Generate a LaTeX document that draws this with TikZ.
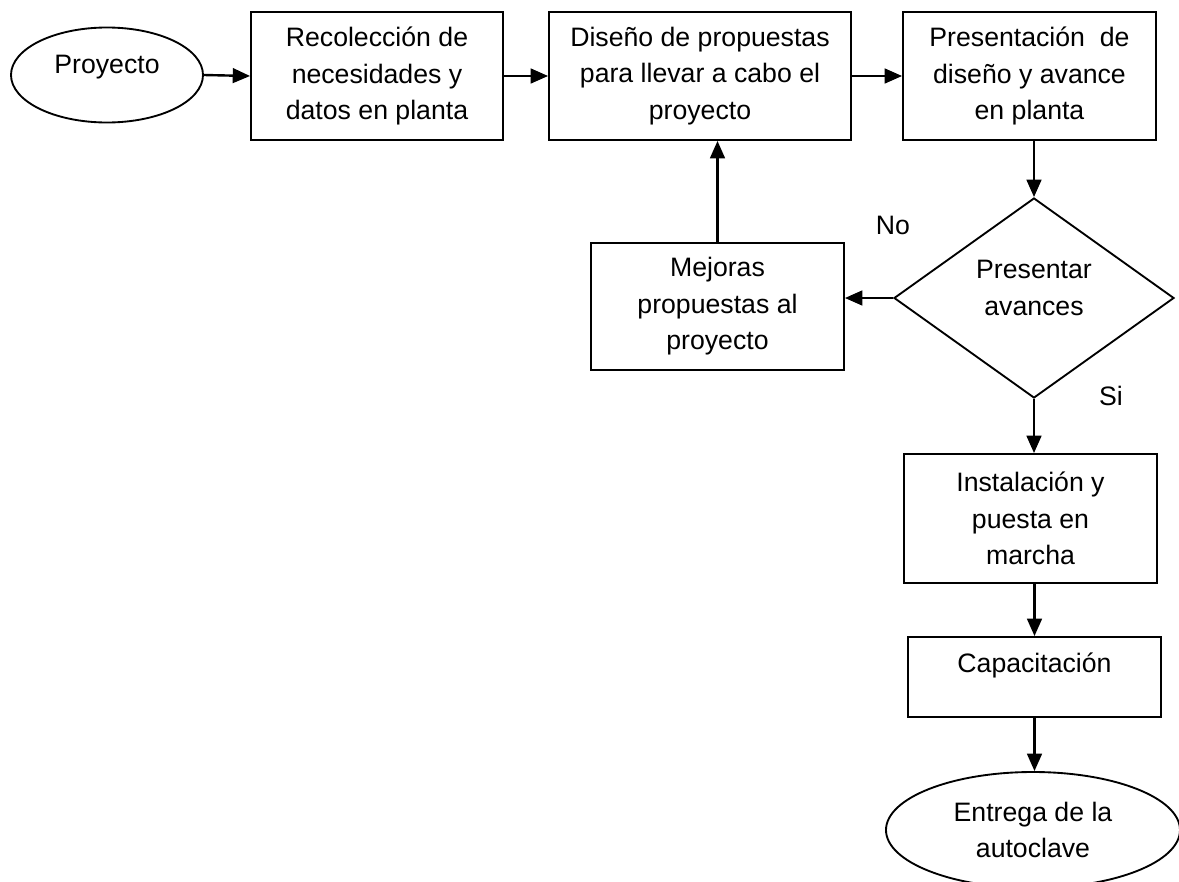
\documentclass[tikz,border=0pt]{standalone}
\usepackage{fontspec}
\setmainfont{Liberation Sans}
\usetikzlibrary{shapes.geometric,arrows.meta}
\begin{document}
\begin{tikzpicture}[x=0.75pt,y=-0.75pt,
  every node/.style={font=\fontsize{20}{27.4}\selectfont},
  box/.style={draw,line width=1.4pt,rectangle,inner sep=0pt,align=center},
  oval/.style={draw,line width=1.4pt,ellipse,inner sep=0pt,align=center},
  decision/.style={draw,line width=1.4pt,diamond,inner sep=0pt},
  arr/.style={line width=1.8pt,-{Triangle[length=13pt,width=11pt]}},
  lbl/.style={inner sep=0pt,align=center}]
\useasboundingbox (0,0) rectangle (1179,882);
\clip (0,0) rectangle (1179,882);

% start and end terminals
\node[oval,minimum width=144pt,minimum height=71.25pt] (proj) at (107,75) {};
\node[lbl] (projtxt) at (107,67) {Proyecto};

% top row of process steps
\node[box,minimum width=189pt,minimum height=96pt] (rec) at (377,76)
  {Recolección de\\necesidades y\\datos en planta};
\node[box,minimum width=226.5pt,minimum height=96pt] (dis) at (700,76)
  {Diseño de propuestas\\para llevar a cabo el\\proyecto};
\node[box,minimum width=189.75pt,minimum height=96pt] (pres) at (1029.5,76)
  {Presentación\ \ de\\diseño y avance\\en planta};

% decision and feedback loop
\node[decision,minimum width=210pt,minimum height=150pt] (dec) at (1034,298) {};
\node[lbl] (dectxt) at (1034,288) {Presentar\\avances};
\node[box,minimum width=189.75pt,minimum height=95.25pt] (mej) at (717.5,306.5)
  {Mejoras\\propuestas al\\proyecto};
\node[lbl] (no) at (893,225) {No};
\node[lbl] (si) at (1111,396) {Si};

% lower column
\node[box,minimum width=189.75pt,minimum height=96.75pt] (inst) at (1030.5,518.5)
  {Instalación y\\puesta en\\marcha};
\node[box,minimum width=189.75pt,minimum height=60pt] (cap) at (1034.5,677) {};
\node[lbl] (captxt) at (1034.5,665) {Capacitación};
\node[oval,minimum width=220.5pt,minimum height=87pt] (fin) at (1033,830)
  {Entrega de la\\autoclave};

% connectors
\draw[arr] (proj.east) -- (rec.west);
\draw[arr] (rec.east) -- (dis.west);
\draw[arr] (dis.east) -- (pres.west);
\draw[arr] (dec.north |- pres.south) -- (dec.north);
\draw[arr] (dec.west) -- (dec.west -| mej.east);
\draw[arr] (mej.north) -- (mej.north |- dis.south);
\draw[arr] (dec.south) -- (dec.south |- inst.north);
\draw[arr] (cap.north |- inst.south) -- (cap.north);
\draw[arr] (cap.south) -- (cap.south |- fin.north);
\end{tikzpicture}
\end{document}
